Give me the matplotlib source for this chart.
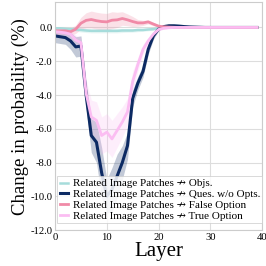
import numpy as np
import matplotlib
matplotlib.use("Agg")
import matplotlib.pyplot as plt

layers = np.arange(40)

objs = [-0.05, -0.05, -0.08, -0.1, -0.12, -0.15, -0.18, -0.2, -0.2, -0.2,
        -0.2, -0.2, -0.2, -0.18, -0.18, -0.18, -0.15, -0.15, -0.12, -0.1,
        -0.05, -0.02, 0.0, 0.0, 0.0, 0.0, 0.0, 0.0, 0.0, 0.0,
        0.0, 0.0, 0.0, 0.0, 0.0, 0.0, 0.0, 0.0, 0.0, 0.0]
objs_std = [0.08, 0.08, 0.08, 0.1, 0.1, 0.12, 0.12, 0.12, 0.12, 0.12,
            0.12, 0.12, 0.12, 0.12, 0.1, 0.1, 0.1, 0.08, 0.08, 0.06,
            0.05, 0.03, 0.02, 0.02, 0.02, 0.02, 0.02, 0.02, 0.02, 0.02,
            0.02, 0.02, 0.02, 0.02, 0.02, 0.02, 0.02, 0.02, 0.02, 0.02]

ques = [-0.5, -0.55, -0.6, -0.8, -1.15, -1.1, -4.0, -6.4, -6.8, -8.6,
        -10.0, -9.6, -8.8, -8.0, -7.0, -4.2, -3.3, -2.6, -1.3, -0.5,
        -0.1, 0.05, 0.1, 0.1, 0.08, 0.05, 0.03, 0.02, 0.01, 0.0,
        0.0, 0.0, 0.0, 0.0, 0.0, 0.0, 0.0, 0.0, 0.0, 0.0]
ques_std = [0.4, 0.4, 0.4, 0.5, 0.6, 0.6, 0.8, 1.0, 1.2, 1.5,
            1.0, 1.3, 1.3, 1.0, 0.8, 0.5, 0.4, 0.35, 0.3, 0.2,
            0.1, 0.05, 0.05, 0.04, 0.03, 0.02, 0.02, 0.02, 0.02, 0.02,
            0.02, 0.02, 0.02, 0.02, 0.02, 0.02, 0.02, 0.02, 0.02, 0.02]

false_opt = [-0.2, -0.2, -0.2, -0.25, -0.1, 0.25, 0.42, 0.47, 0.4, 0.35,
             0.33, 0.43, 0.45, 0.53, 0.45, 0.35, 0.27, 0.27, 0.33, 0.2,
             0.08, 0.04, 0.02, 0.01, 0.0, 0.0, 0.0, 0.0, 0.0, 0.0,
             0.0, 0.0, 0.0, 0.0, 0.0, 0.0, 0.0, 0.0, 0.0, 0.0]
false_std = [0.2, 0.2, 0.2, 0.2, 0.25, 0.35, 0.45, 0.5, 0.5, 0.5,
             0.5, 0.5, 0.45, 0.4, 0.35, 0.3, 0.2, 0.15, 0.12, 0.1,
             0.06, 0.04, 0.03, 0.02, 0.02, 0.02, 0.02, 0.02, 0.02, 0.02,
             0.02, 0.02, 0.02, 0.02, 0.02, 0.02, 0.02, 0.02, 0.02, 0.02]

true_opt = [-0.25, -0.28, -0.32, -0.4, -0.75, -0.9, -3.9, -5.3, -5.5, -6.4,
            -6.2, -6.6, -6.1, -5.6, -5.0, -3.2, -2.2, -1.3, -0.8, -0.4,
            -0.12, -0.05, -0.02, 0.0, 0.0, 0.0, 0.0, 0.0, 0.0, 0.0,
            0.0, 0.0, 0.0, 0.0, 0.0, 0.0, 0.0, 0.0, 0.0, 0.0]
true_std = [0.25, 0.25, 0.25, 0.25, 0.3, 0.3, 0.8, 1.0, 1.1, 1.1,
            1.1, 1.1, 1.0, 0.9, 0.8, 0.6, 0.4, 0.3, 0.2, 0.15,
            0.08, 0.05, 0.03, 0.02, 0.02, 0.02, 0.02, 0.02, 0.02, 0.02,
            0.02, 0.02, 0.02, 0.02, 0.02, 0.02, 0.02, 0.02, 0.02, 0.02]

labels = ["Related Image Patches \u219b Objs.",
          "Related Image Patches \u219b Ques. w/o Opts.",
          "Related Image Patches \u219b False Option",
          "Related Image Patches \u219b True Option"]
colors = ["#a6dcdb", "#0c2a63", "#f08aa7", "#fbbdf2"]
widths = [1.8, 2.2, 2.0, 2.0]

plt.rcParams['font.family'] = ['Liberation Serif', 'DejaVu Serif']
plt.rcParams['axes.unicode_minus'] = False

fig = plt.figure(figsize=(2.66, 2.66), dpi=100)
ax = fig.add_axes([0.207, 0.135, 0.778, 0.857])

series = [(objs, objs_std), (ques, ques_std), (false_opt, false_std), (true_opt, true_std)]
for (m, s), lab, c, w in zip(series, labels, colors, widths):
    m = np.array(m)
    s = np.array(s)
    ax.fill_between(layers, m - s, m + s, color=c, alpha=0.25, linewidth=0)
    ax.plot(layers, m, color=c, lw=w, label=lab)

ax.set_xlim(0, 40)
ax.set_ylim(-12, 1.5)
ax.set_xticks([0, 10, 20, 30, 40])
ax.set_yticks(np.arange(-12, 0.1, 2))
ax.yaxis.set_major_formatter(matplotlib.ticker.FormatStrFormatter('%.1f'))
ax.tick_params(labelsize=7.7, length=0, pad=2)
ax.grid(True, color="#dddddd", lw=0.8)
ax.set_axisbelow(True)
for sp in ax.spines.values():
    sp.set_color("#cccccc")
    sp.set_linewidth(0.8)

ax.set_xlabel("Layer", fontsize=15, labelpad=0)
ax.set_ylabel("Change in probability (%)", fontsize=13.5, labelpad=1)

leg = ax.legend(loc='lower left', bbox_to_anchor=(0.0, 0.02), fontsize=8,
                handlelength=0.8, handletextpad=0.4, labelspacing=0.1,
                borderpad=0.2, borderaxespad=0.2, framealpha=0.85, fancybox=False)
leg.get_frame().set_edgecolor("#cccccc")
leg.get_frame().set_linewidth(0.6)

fig.savefig("out.png", dpi=100)
